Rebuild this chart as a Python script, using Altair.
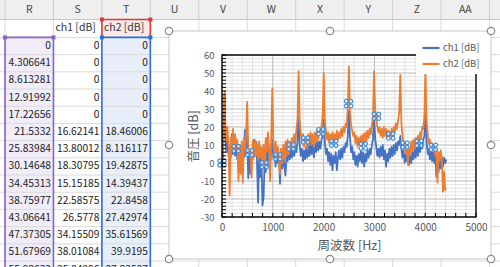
import altair as alt
import pandas as pd

# ---------------- data ----------------
sheet_cols = ["R", "S", "T", "U", "V", "W", "X", "Y", "Z", "AA", "AB"]
freq_head = [0, 4.306641, 8.613281, 12.91992, 17.22656, 21.5332, 25.83984,
             30.14648, 34.45313, 38.75977, 43.06641, 47.37305, 51.67969, 55.98633]
ch1_head = [0, 0, 0, 0, 0, 16.62141, 13.80012, 18.30795, 15.15185, 22.58575,
            26.5778, 34.15509, 38.01084, 25.84996]
ch2_head = [0, 0, 0, 0, 0, 18.46006, 8.116117, 19.42875, 14.39437, 22.8458,
            27.42974, 35.61569, 39.9195, 27.83587]
name_ch1 = "ch1 [dB]"
name_ch2 = "ch2 [dB]"

bin_hz = 4.306641
first_rest_bin = 15          # later points: one every 5 bins (64.6 Hz ... 4414 Hz)
ch1_rest = [
    14, 6, 12, 4, 9, 3, 16, 5, 15, 4,
    10, 2, 8, -3, 7, 1, 9, 3, 18.5, 5,
    15, -8.5, 6, -6, 8, 2, 12.8, 4, 12, 1,
    -22, 5, -8, 3, -23.5, -19, 2, -5, 8, -2,
    9, 0, 6, 13, 3, 8, -2, 7, 0, 5,
    -11.5, 4, -3, 6, -2, -7, 5, 1, 8, 2,
    9, 3, 10, 4, 9, 6, 12, 25.7, 10, 4,
    8, 1, 7, 2, 9, 3, 10, 4, 11, 5,
    10, 3, 11, 6, 12, 7, 12, 8, 13, 15,
    24, 12, 5, 8, 1, 6, -1, 5, -4, 4,
    0, 6, -4, 3, 7, 2, 8, 3, 9, 6,
    11, 9, 15, 29, 14, 6, 9, 2, 6, -1,
    4, -2, 5, 1, 7, 0, 6, -2, 5, 1,
    7, 3, 8, 5, 10, 13, 27, 14, 9, 4,
    8, 3, 9, 4, 10, 2, 7, -2, 5, 1,
    8, 3, 9, 4, 10, 5, 11, 7, 12, 10,
    15, 8, 3, 7, 0, 5, 1, 6, -1, 4,
    0, 6, 2, 8, 3, 9, 4, 10, 6, 11,
    8, 13, 15, 27, 12, 5, 8, 2, 7, 1,
    6, 0, 5, -7.5, 3, -5, 4, -3, 3, -2,
    3, 0, 2,
]
ch2_rest = [
    22, 12, 20, 9, -18, 14, 6, 19, 8, 16,
    8, 13, -10, 10, -6, 12, -11, 14, 6, 16,
    34, 9, 4, 6, -8, 12, 3, 13, 4, 11,
    2, 12, 3, 9, 0, 10, -1, 14, 6, 17,
    8, -10, 14, 41.5, 10, 4, 12, 3, 9, 3.5,
    -6, 8, 0, 10, 2, 12, 4, 13, 5, 12,
    7, 14, 9, 16, 11, 19, 24, 51, 24, 17,
    12, 16, 9, 14, 12.8, 8, 16, 10, 17, 11,
    16, 9, 17, 12, 18, 13, 19, 17.4, 21, 26,
    50, 24, 18, 13, 17, 11, 16, 12, 17, 11,
    16, 12, 18, 13, 17, 14, 19, 15, 20, 17,
    22, 20, 31, 53.5, 29, 21, 18, 15, 17, 11,
    15, 9, 14, 10, 15, 9.4, 16, 11, 17, 12,
    18, 14, 19, 16, 21, 25, 51, 30, 25, 20,
    17, 20, 15, 19, 14, 20, 15, 19, 14, 18,
    16, 15, 19, 16, 20, 17, 22, 19, 24, 28,
    49, 22, 15, 12, 10, 5, 9, -1, 8, 5,
    12, 7, 13, 8, 14, 9, 15, 11, 17, 14,
    20, 19, 26, 52, 24, 16, 11, 13, 7, 11,
    8.7, 10, 4, 9, -11, 6, 1, 7, 2, -16,
    -5, -15, -14,
]
marker_freq = [0, 280, 545, 830, 1100, 1360, 1645, 1945, 2200, 2490, 2780,
               3040, 3320, 3600, 3880, 4160]
marker_val = [0, 8, 5.7, -1, 3.5, 9, 12.8, 17.4, 11, 33, 9.4, 26, 15, 10, 11, 8.7]
x_labels = [0, 1000, 2000, 3000, 4000, 5000]
y_labels = [-30, -20, -10, 0, 10, 20, 30, 40, 50, 60]
x_title = "周波数 [Hz]"
y_title = "音圧 [dB]"

# ---------------- layout / style ----------------
W, H = 500, 267
COL0, COLW = 5.0, 48.45
HDR_B, ROW1_B, ROW_H = 19.5, 37.4, 17.2
FR_L, FR_T, FR_R, FR_B = 169, 31, 491, 259
FONT = "Noto Sans CJK JP"
BLUE, ORANGE = "#4472C4", "#ED7D31"
GRAY_TXT = "#595959"

SX = alt.Scale(domain=[0, W], range=[0, W], nice=False, zero=False)
SY = alt.Scale(domain=[0, H], range=[0, H], nice=False, zero=False)
PX = alt.Scale(domain=[0, 5000], range=[222, 476], nice=False, zero=False)
PY = alt.Scale(domain=[-30, 60], range=[217, 55], nice=False, zero=False)

col_edges = [COL0 + k * COLW for k in range(len(sheet_cols) + 1)]
n_rows = len(freq_head)
row_edges = [ROW1_B + k * ROW_H for k in range(n_rows + 1)]


def sheet_rects(rows):
    df = pd.DataFrame(rows, columns=["x", "x2", "y", "y2", "fill"])
    return alt.Chart(df).mark_rect().encode(
        x=alt.X("x:Q", scale=SX, axis=None), x2="x2",
        y=alt.Y("y:Q", scale=SY, axis=None), y2="y2",
        fill=alt.Fill("fill:N", scale=None))


def sheet_rules(rows, width=1.0):
    df = pd.DataFrame(rows, columns=["x", "x2", "y", "y2", "c"])
    return alt.Chart(df).mark_rule(strokeWidth=width).encode(
        x=alt.X("x:Q", scale=SX, axis=None), x2="x2",
        y=alt.Y("y:Q", scale=SY, axis=None), y2="y2",
        color=alt.Color("c:N", scale=None))


layers = []

# header background + highlighted ranges
r_l, r_r = col_edges[0], col_edges[1]
t_l, t_r = col_edges[2], col_edges[3]
layers.append(sheet_rects([
    (0, W, 0, HDR_B, "#efefef"),
    (r_l, r_r, ROW1_B, H + 20, "#f0ecf8"),
    (t_l, t_r, ROW1_B, H + 20, "#e8effa"),
    (t_l, t_r, HDR_B, ROW1_B, "#fde8e8"),
]))

# grid lines
grid = [(0, W, HDR_B, HDR_B, "#c8c8c8")]
grid += [(0, W, y, y, "#dadada") for y in row_edges]
grid += [(x, x, HDR_B, H + 20, "#dadada") for x in col_edges]
grid += [(x, x, 0, HDR_B, "#cfcfcf") for x in col_edges]
layers.append(sheet_rules(grid))

# range highlight borders
hl = [
    (r_l, r_l, ROW1_B, H + 20, "#8763c6"), (r_r, r_r, ROW1_B, H + 20, "#8763c6"),
    (r_l, r_r, ROW1_B, ROW1_B, "#8763c6"),
    (t_l, t_l, ROW1_B, H + 20, "#2f6fd0"), (t_r, t_r, ROW1_B, H + 20, "#2f6fd0"),
    (t_l, t_r, ROW1_B, ROW1_B, "#2f6fd0"),
    (t_l, t_l, HDR_B, ROW1_B, "#d83b3b"), (t_r, t_r, HDR_B, ROW1_B, "#d83b3b"),
    (t_l, t_r, HDR_B, HDR_B, "#d83b3b"),
]
layers.append(sheet_rules(hl, width=1.6))
sq = pd.DataFrame([
    (r_l, ROW1_B, "#8763c6"), (r_r, ROW1_B, "#8763c6"),
    (t_l, ROW1_B, "#2f6fd0"), (t_r, ROW1_B, "#2f6fd0"),
    (t_l, HDR_B, "#d83b3b"), (t_r, HDR_B, "#d83b3b"),
], columns=["x", "y", "c"])
layers.append(alt.Chart(sq).mark_square(size=16, opacity=1).encode(
    x=alt.X("x:Q", scale=SX, axis=None), y=alt.Y("y:Q", scale=SY, axis=None),
    color=alt.Color("c:N", scale=None)))

# header letters (only columns whose label fits in the window)
hdr_rows = []
for i, c in enumerate(sheet_cols):
    cx = (col_edges[i] + col_edges[i + 1]) / 2
    if cx < W - 12:
        hdr_rows.append({"t": c, "x": cx, "y": HDR_B / 2})
layers.append(alt.Chart(pd.DataFrame(hdr_rows)).mark_text(
    font=FONT, fontSize=10.5, color="#444444", baseline="middle", align="center").encode(
    x=alt.X("x:Q", scale=SX, axis=None), y=alt.Y("y:Q", scale=SY, axis=None), text="t:N"))

# series names
names = pd.DataFrame({"t": [name_ch1, name_ch2],
                      "x": [col_edges[1] + 2, col_edges[2] + 2],
                      "y": [(HDR_B + ROW1_B) / 2] * 2})
layers.append(alt.Chart(names).mark_text(font=FONT, fontSize=10.5, color="#333333",
                                         baseline="middle", align="left").encode(
    x=alt.X("x:Q", scale=SX, axis=None), y=alt.Y("y:Q", scale=SY, axis=None), text="t:N"))

# cell numbers
cells = []
for ci, vals in enumerate([freq_head, ch1_head, ch2_head]):
    for ri, v in enumerate(vals):
        cells.append({"t": str(v), "x": col_edges[ci + 1] - 2.5,
                      "y": (row_edges[ri] + row_edges[ri + 1]) / 2})
layers.append(alt.Chart(pd.DataFrame(cells)).mark_text(
    font=FONT, fontSize=10.2, color="#222222", baseline="middle", align="right").encode(
    x=alt.X("x:Q", scale=SX, axis=None), y=alt.Y("y:Q", scale=SY, axis=None), text="t:N"))

# chart frame
layers.append(alt.Chart(pd.DataFrame([{"x": FR_L, "x2": FR_R, "y": FR_T, "y2": FR_B}]))
              .mark_rect(fill="white", stroke="#c6c6c6", strokeWidth=1).encode(
    x=alt.X("x:Q", scale=SX, axis=None), x2="x2",
    y=alt.Y("y:Q", scale=SY, axis=None), y2="y2"))

# ---------------- plot ----------------
gx_minor = [f for f in range(200, 5000, 200) if f % 1000]
gx_major = [1000, 2000, 3000, 4000]
gy_minor = [v for v in range(-28, 60, 2) if v % 10]
gy_major = [-20, -10, 0, 10, 20, 30, 40, 50]


def vgrid(vals, color):
    df = pd.DataFrame({"f": vals, "lo": -30, "hi": 60})
    return alt.Chart(df).mark_rule(color=color, strokeWidth=1).encode(
        x=alt.X("f:Q", scale=PX, axis=None),
        y=alt.Y("lo:Q", scale=PY, axis=None), y2="hi")


def hgrid(vals, color):
    df = pd.DataFrame({"v": vals, "lo": 0, "hi": 5000})
    return alt.Chart(df).mark_rule(color=color, strokeWidth=1).encode(
        y=alt.Y("v:Q", scale=PY, axis=None),
        x=alt.X("lo:Q", scale=PX, axis=None), x2="hi")


layers += [vgrid(gx_minor, "#e3e3e3"), hgrid(gy_minor, "#e3e3e3"),
           vgrid(gx_major, "#b8b8b8"), hgrid(gy_major, "#b8b8b8")]

# series
rest_freq = [bin_hz * (first_rest_bin + 5 * i) for i in range(len(ch1_rest))]
freq = freq_head + rest_freq
ch1 = ch1_head + ch1_rest
ch2 = ch2_head + ch2_rest
df_lines = pd.concat([
    pd.DataFrame({"f": freq, "v": ch1, "s": name_ch1, "o": range(len(freq))}),
    pd.DataFrame({"f": freq, "v": ch2, "s": name_ch2, "o": range(len(freq))}),
])
layers.append(alt.Chart(df_lines).mark_line(strokeWidth=1.8, strokeJoin="round").encode(
    x=alt.X("f:Q", scale=PX, axis=None),
    y=alt.Y("v:Q", scale=PY, axis=None),
    order="o:Q",
    color=alt.Color("s:N", scale=alt.Scale(domain=[name_ch1, name_ch2], range=[BLUE, ORANGE]),
                    legend=alt.Legend(title=None, orient="none", legendX=416, legendY=33,
                                      direction="vertical", symbolType="stroke",
                                      symbolSize=289, symbolStrokeWidth=2.2,
                                      labelFont=FONT, labelFontSize=9.5, labelColor=GRAY_TXT,
                                      labelOffset=2, rowPadding=1, padding=5,
                                      fillColor="white"))))

# selected-series markers
df_mk = pd.DataFrame({"f": marker_freq, "v": marker_val})
for dx, dy in [(-2.3, -2.3), (2.3, -2.3), (-2.3, 2.3), (2.3, 2.3)]:
    layers.append(alt.Chart(df_mk).mark_point(
        shape="circle", size=14, filled=False, stroke="#3d8ee0", strokeWidth=1.2,
        fill="white", fillOpacity=0.7, xOffset=dx, yOffset=dy).encode(
        x=alt.X("f:Q", scale=PX, axis=None), y=alt.Y("v:Q", scale=PY, axis=None)))

# plot border with axes (labels / titles)
border = pd.DataFrame([{"x0": 0, "x1": 5000, "y0": -30, "y1": 60}])
layers.append(alt.Chart(border).mark_rect(fillOpacity=0, stroke="black", strokeWidth=1.4).encode(
    x=alt.X("x0:Q", scale=PX, title=x_title,
            axis=alt.Axis(values=x_labels, labelExpr="'' + datum.value", offset=-50,
                          domain=False, ticks=False, tickSize=0, grid=False,
                          labelFont=FONT, labelFontSize=10, labelColor=GRAY_TXT,
                          labelPadding=5, labelFlush=False, labelOverlap=False,
                          titleFont=FONT, titleFontSize=12.5, titleColor=GRAY_TXT,
                          titleFontWeight="normal", titlePadding=7, zindex=1)),
    x2="x1",
    y=alt.Y("y0:Q", scale=PY, title=y_title,
            axis=alt.Axis(values=y_labels, labelExpr="'' + datum.value", offset=-222,
                          domain=False, ticks=False, tickSize=0, grid=False,
                          labelFont=FONT, labelFontSize=9.5, labelColor=GRAY_TXT,
                          labelPadding=8, labelFlush=False, labelOverlap=False,
                          titleFont=FONT, titleFontSize=12.5, titleColor=GRAY_TXT,
                          titleFontWeight="normal", titlePadding=0, zindex=1)),
    y2="y1"))

# inside tick marks
tx = pd.DataFrame({"f": list(range(0, 5001, 200)), "lo": -30})
layers.append(alt.Chart(tx).mark_rule(color="black", strokeWidth=1, y2Offset=-4).encode(
    x=alt.X("f:Q", scale=PX, axis=None),
    y=alt.Y("lo:Q", scale=PY, axis=None), y2="lo"))
ty = pd.DataFrame({"v": list(range(-30, 61, 2)), "x0": 0})
layers.append(alt.Chart(ty).mark_rule(color="black", strokeWidth=1, x2Offset=4).encode(
    y=alt.Y("v:Q", scale=PY, axis=None),
    x=alt.X("x0:Q", scale=PX, axis=None), x2="x0"))

# frame selection handles
mid_x, mid_y = (FR_L + FR_R) / 2, (FR_T + FR_B) / 2
hd = pd.DataFrame([(FR_L, FR_T), (mid_x, FR_T), (FR_R, FR_T), (FR_L, mid_y), (FR_R, mid_y),
                   (FR_L, FR_B), (mid_x, FR_B), (FR_R, FR_B)], columns=["x", "y"])
layers.append(alt.Chart(hd).mark_point(shape="circle", size=55, filled=True, fill="white",
                                       stroke="#8a8a8a", strokeWidth=1.2, opacity=1).encode(
    x=alt.X("x:Q", scale=SX, axis=None), y=alt.Y("y:Q", scale=SY, axis=None)))

chart = alt.layer(*layers).resolve_scale(
    x="independent", y="independent"
).properties(
    width=W, height=H, padding=0, background="white",
    autosize=alt.AutoSizeParams(type="none"),
).configure_view(stroke=None)

chart.save("out.html", embed_options={"renderer": "svg", "actions": False})
